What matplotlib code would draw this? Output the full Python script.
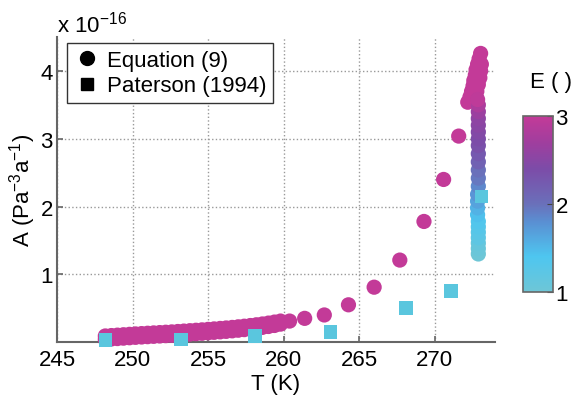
import matplotlib
matplotlib.use("Agg")
import matplotlib.pyplot as plt
from matplotlib.colors import LinearSegmentedColormap
from matplotlib.lines import Line2D

plt.rcParams["font.family"] = ["Liberation Sans", "DejaVu Sans"]
plt.rcParams["mathtext.default"] = "regular"

# Equation (9): temperature (K), rate factor A (x 1e-16 Pa^-3 a^-1), enhancement E
T_band = [248.2, 248.6, 249.0, 249.4, 249.8, 250.2, 250.6, 251.0, 251.4, 251.8,
          252.2, 252.6, 253.0, 253.4, 253.8, 254.2, 254.6, 255.0, 255.4, 255.8,
          256.2, 256.6, 257.0, 257.4, 257.8, 258.2, 258.6, 259.0, 259.4, 259.8]
A_band_hi = [0.090, 0.096, 0.102, 0.108, 0.114, 0.120, 0.125, 0.130, 0.135, 0.140,
             0.145, 0.150, 0.156, 0.162, 0.168, 0.174, 0.180, 0.187, 0.194, 0.201,
             0.208, 0.216, 0.225, 0.234, 0.244, 0.255, 0.267, 0.280, 0.295, 0.310]
A_band_lo = [0.040, 0.046, 0.052, 0.058, 0.064, 0.070, 0.075, 0.080, 0.085, 0.090,
             0.095, 0.100, 0.106, 0.112, 0.118, 0.124, 0.130, 0.137, 0.144, 0.151,
             0.158, 0.166, 0.175, 0.184, 0.194, 0.205, 0.217, 0.230, 0.245, 0.265]

T_warm = [260.4, 261.4, 262.7, 264.3, 266.0, 267.7, 269.3, 270.6, 271.6, 272.2]
A_warm = [0.31, 0.35, 0.40, 0.55, 0.81, 1.21, 1.78, 2.40, 3.04, 3.54]

T_col = [272.9, 272.9, 272.9, 272.9, 272.9, 272.9, 272.9, 272.85, 272.85, 272.85,
         272.85, 272.9, 272.9, 272.9, 272.9, 272.9, 272.9, 272.9, 272.9, 272.9,
         272.9, 272.9, 272.9, 272.85]
A_col = [1.30, 1.38, 1.46, 1.54, 1.62, 1.70, 1.78, 1.88, 1.98, 2.08,
         2.18, 2.30, 2.42, 2.54, 2.66, 2.78, 2.90, 3.00, 3.10, 3.20,
         3.30, 3.40, 3.50, 3.58]
E_col = [1.0, 1.05, 1.1, 1.2, 1.25, 1.3, 1.35, 1.45, 1.55, 1.65,
         1.75, 1.85, 1.95, 2.0, 2.15, 2.25, 2.35, 2.4, 2.45, 2.5,
         2.55, 2.65, 2.8, 2.95]

T_top = [272.35, 272.45, 272.55, 272.6, 272.7, 272.75, 272.85, 272.95, 273.05,
         272.7, 272.8, 272.9, 273.0, 273.05, 273.1]
A_top = [3.62, 3.70, 3.78, 3.86, 3.94, 4.02, 4.10, 4.18, 4.26,
         3.60, 3.70, 3.80, 3.90, 4.00, 4.10]

# Paterson (1994)
T_pat = [248.2, 253.2, 258.1, 263.1, 268.1, 271.1, 273.1]
A_pat = [0.03, 0.04, 0.09, 0.15, 0.50, 0.75, 2.15]

x_ticks = [245, 250, 255, 260, 265, 270]
y_ticks = [1, 2, 3, 4]
cbar_ticks = [1, 2, 3]

cmap = LinearSegmentedColormap.from_list(
    "E_map",
    [(0.0, "#6ec6d6"), (0.2, "#4ec6f0"), (0.4, "#5a8fd2"), (0.5, "#6a70ba"),
     (0.7, "#7c4ca8"), (0.85, "#a03e9e"), (1.0, "#c33a98")])

fig = plt.figure(figsize=(5.77, 4.06), dpi=100)
ax = fig.add_axes([0.0988, 0.155, 0.759, 0.751])

T_eq = T_band + T_band + T_warm + T_top + T_col
A_eq = A_band_hi + A_band_lo + A_warm + A_top + A_col
E_eq = [3.0] * (2 * len(T_band) + len(T_warm) + len(T_top)) + E_col

sc = ax.scatter(T_eq, A_eq, c=E_eq, cmap=cmap, vmin=1, vmax=3, s=120,
                marker="o", edgecolors="none", clip_on=False, zorder=3)
ax.scatter(T_pat, A_pat, color="#5ac6de", s=95, marker="s",
           edgecolors="none", clip_on=False, zorder=4)

ax.set_xlim(245, 274)
ax.set_ylim(0, 4.5)
ax.set_xticks(x_ticks)
ax.set_yticks(y_ticks)
ax.tick_params(direction="in", labelsize=16, color="#666666", length=4, width=1.2)
ax.tick_params(axis="x", pad=5)
ax.tick_params(axis="y", pad=3)
for side in ("top", "right"):
    ax.spines[side].set_visible(False)
for side in ("left", "bottom"):
    ax.spines[side].set_color("#666666")
    ax.spines[side].set_linewidth(1.5)
ax.grid(True, linestyle=":", color="#999999", linewidth=1.0)
ax.set_axisbelow(True)

ax.set_xlabel("T (K)", fontsize=16, labelpad=2)
ax.set_ylabel("A (Pa$^{-3}$a$^{-1}$)", fontsize=16, labelpad=2)
ax.text(0.0, 1.02, "x 10$^{-16}$", transform=ax.transAxes, fontsize=16,
        ha="left", va="baseline")

handles = [Line2D([], [], marker="o", color="black", linestyle="none", markersize=10),
           Line2D([], [], marker="s", color="black", linestyle="none", markersize=9)]
leg = ax.legend(handles, ["Equation (9)", "Paterson (1994)"], loc="upper left",
                bbox_to_anchor=(0.023, 0.98), borderaxespad=0, fontsize=16,
                fancybox=False, framealpha=1, edgecolor="#333333",
                handletextpad=0.3, handlelength=1.2, labelspacing=0.2,
                borderpad=0.3)
leg.get_frame().set_linewidth(1.0)

cax = fig.add_axes([0.906, 0.278, 0.052, 0.434])
cb = fig.colorbar(sc, cax=cax, ticks=cbar_ticks)
cb.outline.set_edgecolor("#666666")
cb.outline.set_linewidth(1.2)
cax.tick_params(direction="in", labelsize=16, length=4, color="#444444", pad=2)
fig.text(0.918, 0.783, "E ( )", fontsize=16, ha="left", va="baseline")

fig.savefig("out.png", dpi=100)
